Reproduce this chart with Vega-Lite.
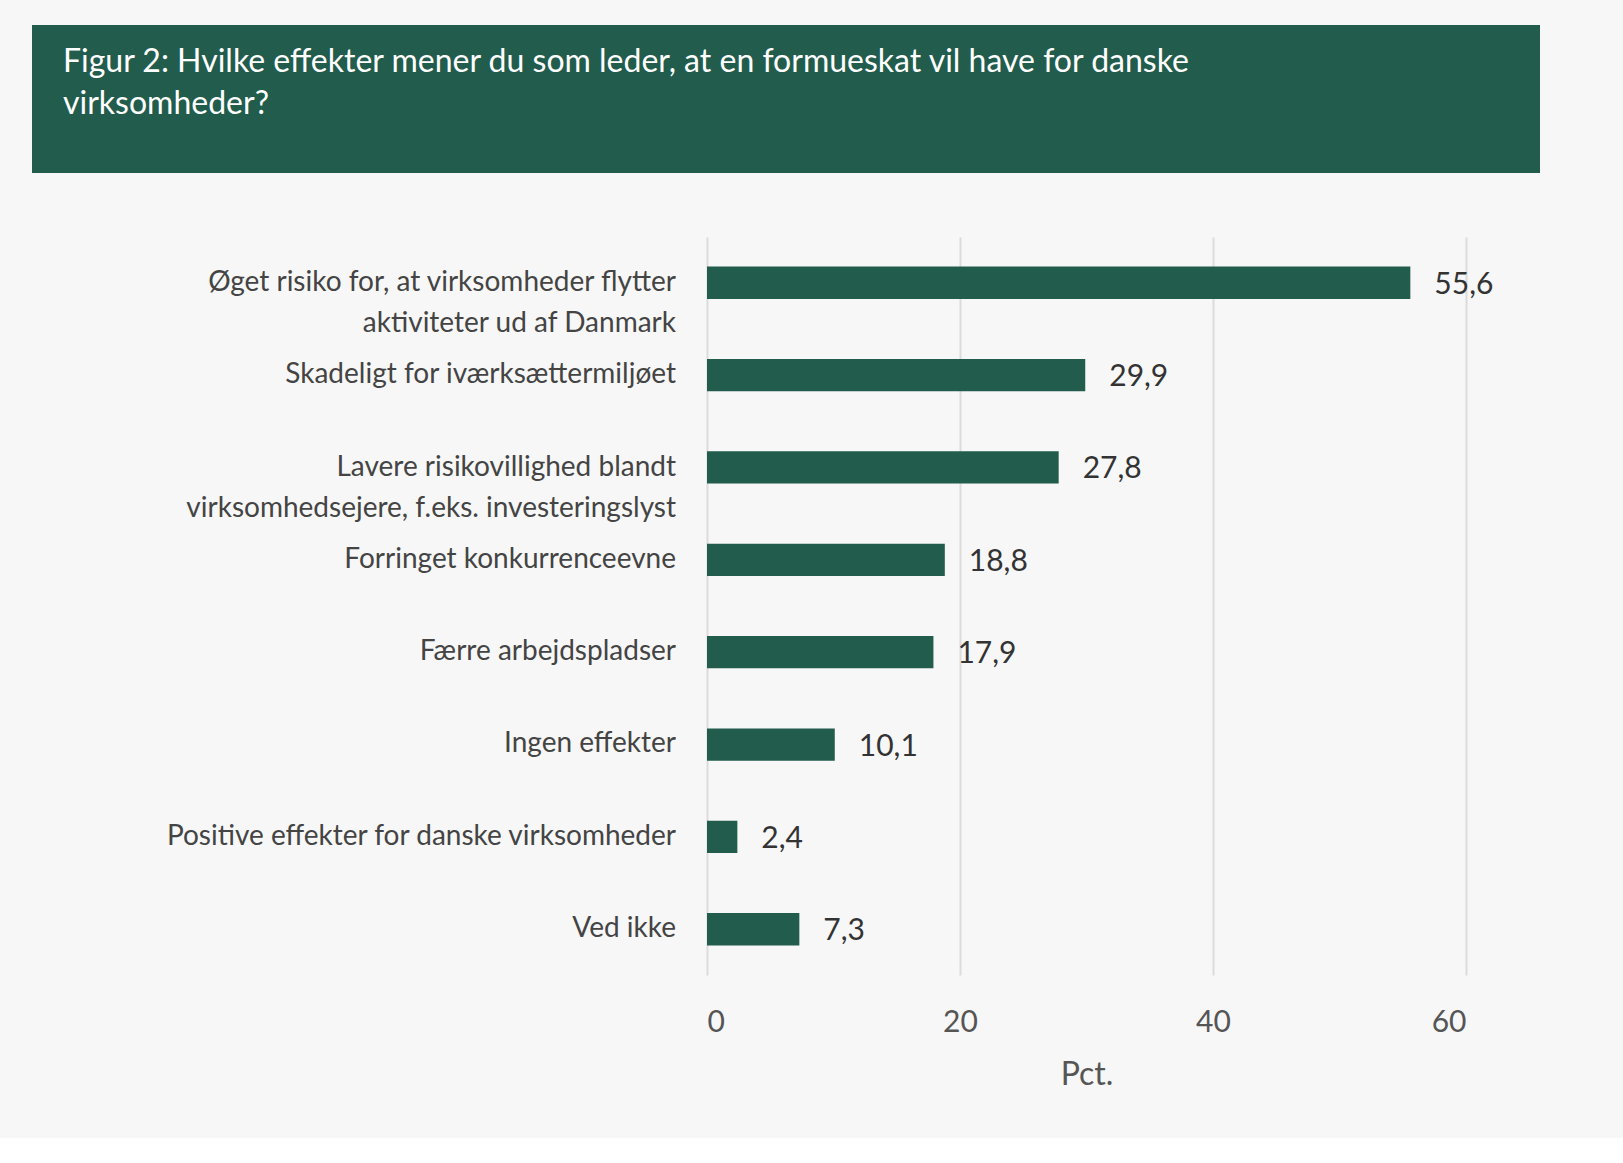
{
  "$schema": "https://vega.github.io/schema/vega-lite/v6.json",
  "background": "#f7f7f7",
  "padding": {"left": 32, "top": 25, "right": 83, "bottom": 48},
  "spacing": 64,
  "config": {"font": "Lato", "view": {"stroke": null}},
  "datasets": {
    "bars": [
      {"label": "Øget risiko for, at virksomheder flytter|aktiviteter ud af Danmark", "v": 55.6, "txt": "55,6"},
      {"label": "Skadeligt for iværksættermiljøet", "v": 29.9, "txt": "29,9"},
      {"label": "Lavere risikovillighed blandt|virksomhedsejere, f.eks. investeringslyst", "v": 27.8, "txt": "27,8"},
      {"label": "Forringet konkurrenceevne", "v": 18.8, "txt": "18,8"},
      {"label": "Færre arbejdspladser", "v": 17.9, "txt": "17,9"},
      {"label": "Ingen effekter", "v": 10.1, "txt": "10,1"},
      {"label": "Positive effekter for danske virksomheder", "v": 2.4, "txt": "2,4"},
      {"label": "Ved ikke", "v": 7.3, "txt": "7,3"}
    ]
  },
  "vconcat": [
    {
      "width": 1508,
      "height": 148,
      "view": {"fill": "#215c4c", "stroke": null},
      "data": {"values": [{"t": "Figur 2:  Hvilke effekter mener du som leder, at en formueskat vil have for danske|virksomheder?"}]},
      "transform": [{"calculate": "split(datum.t, '|')", "as": "t"}],
      "mark": {"type": "text", "align": "left", "baseline": "top", "dx": 31, "dy": 22, "fontSize": 32, "lineHeight": 42, "color": "white"},
      "encoding": {"text": {"field": "t", "type": "nominal"}, "x": {"value": 0}, "y": {"value": 0}}
    },
    {
      "spacing": 31,
      "data": {"name": "bars"},
      "hconcat": [
        {
          "width": 644,
          "height": 738,
          "transform": [{"calculate": "split(datum.label, '|')", "as": "lines"}],
          "mark": {"type": "text", "align": "right", "baseline": "middle", "fontSize": 28, "lineHeight": 41, "color": "#444"},
          "encoding": {
            "y": {"field": "label", "type": "nominal", "sort": null, "axis": null,
              "scale": {"paddingInner": 0.65, "paddingOuter": 0.32}},
            "x": {"datum": 1, "type": "quantitative", "axis": null, "scale": {"domain": [0, 1]}},
            "text": {"field": "lines"}
          }
        },
        {
          "width": 759,
          "height": 738,
          "encoding": {
            "y": {"field": "label", "type": "nominal", "sort": null, "axis": null,
              "scale": {"paddingInner": 0.65, "paddingOuter": 0.32}},
            "x": {"field": "v", "type": "quantitative", "title": "Pct.",
              "scale": {"domain": [0, 60], "nice": false},
              "axis": {"values": [0, 20, 40, 60], "grid": true, "gridColor": "#dcdcdc", "gridWidth": 2, "domain": false, "ticks": false, "labelFontSize": 30, "labelColor": "#555", "labelPadding": 32, "titleFontSize": 32, "titleFontWeight": "normal", "titleColor": "#555", "titlePadding": 22}}
          },
          "layer": [
            {"mark": {"type": "bar", "color": "#215c4c"}},
            {"mark": {"type": "text", "align": "left", "dx": 24, "dy": 2, "fontSize": 30, "color": "#333"},
              "encoding": {"text": {"field": "txt"}}}
          ]
        }
      ]
    }
  ]
}
